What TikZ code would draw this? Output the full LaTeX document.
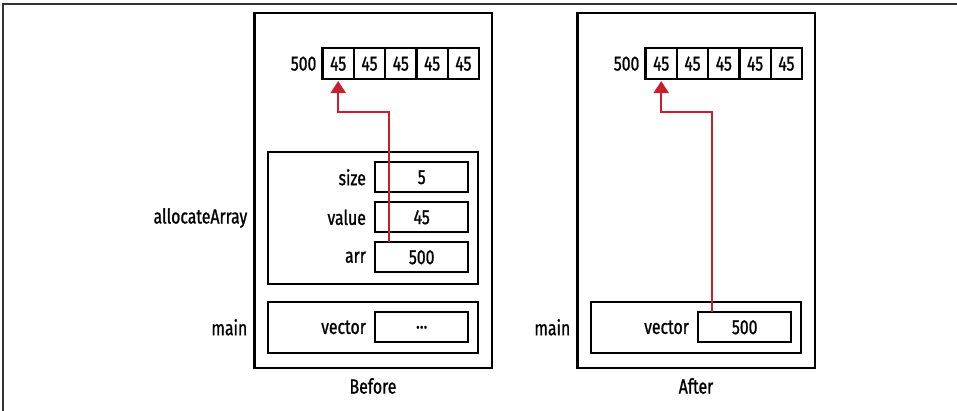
\documentclass[tikz,border=0pt]{standalone}
\usepackage{fontspec}
\setmainfont{Fira Sans}[FakeStretch=0.77, FakeBold=1]
\usetikzlibrary{positioning,arrows.meta}
\definecolor{ptrred}{RGB}{200,30,45}

\begin{document}
\begin{tikzpicture}
        [x = 1pt, y = -1pt,
            font = \fontsize{20.5}{22}\selectfont,
            node distance = 10pt,
            box/.style = {draw, line width=2.2pt, outer sep=0pt, inner sep=0pt},
            frame box/.style = {box, minimum width=#1},
            cell box/.style = {box, minimum width=31.3pt, minimum height=30.7pt},
            value box/.style = {box, minimum width=93.3pt, minimum height=30pt},
            var label/.style = {inner sep=0pt, left=9pt of #1},
            pointer/.style = {ptrred, line width=2.2pt, -{Triangle[width=15pt,length=12pt]}, shorten >=2pt}]

        \useasboundingbox (0,0) rectangle (957,411);
        \draw[black!80, line width=1.2pt] (3,411) -- (3,4) -- (957,4);

        % Before
        \node[frame box=237.5pt, minimum height=354.7pt] (before) at (373.2,190.7) {};
        \node[frame box=210pt, minimum height=132.6pt] (allocB) at (373.3,218) {};
        \node[frame box=210pt, minimum height=51pt] (mainB) at (373.3,327.8) {};

        \node[cell box] (b1) at (338.2,63.7) {45};
        \node[cell box, right=0pt of b1] (b2) {45};
        \node[cell box, right=0pt of b2] (b3) {45};
        \node[cell box, right=0pt of b3] (b4) {45};
        \node[cell box, right=0pt of b4] (b5) {45};
        \node[inner sep=0pt, left=6pt of b1] (addrB) {500};

        \node[value box] (size) at (421.7,177.3) {5};
        \node[value box, below=of size] (value) {45};
        \node[value box, below=of value] (arr) {500};
        \node[value box] (vectorB) at (421.7,327.3) {...};
        \node[var label=size] {size};
        \node[var label=value] {value};
        \node[var label=arr] {arr};
        \node[var label=vectorB] {vector};

        \node[inner sep=0pt, anchor=east] (allocLbl) at ([xshift=-7pt]before.west |- allocB.west) {allocateArray};
        \node[inner sep=0pt, anchor=east] (mainLblB) at ([xshift=-7pt]before.west |- vectorB.west) {main};
        \node (beforeLbl) at (373,386) {Before};

        \draw[pointer] ([xshift=14pt]arr.north west) |- ([yshift=-33pt]b1.south) -- (b1.south);

        % After
        \node[frame box=237.5pt, minimum height=354.7pt] (after) at (696.2,190.7) {};
        \node[frame box=210pt, minimum height=51pt] (mainA) at (696.3,327.8) {};

        \node[cell box] (a1) at (661.2,63.7) {45};
        \node[cell box, right=0pt of a1] (a2) {45};
        \node[cell box, right=0pt of a2] (a3) {45};
        \node[cell box, right=0pt of a3] (a4) {45};
        \node[cell box, right=0pt of a4] (a5) {45};
        \node[inner sep=0pt, left=6pt of a1] (addrA) {500};

        \node[value box] (vectorA) at (744.7,327.3) {500};
        \node[var label=vectorA] {vector};
        \node[inner sep=0pt, anchor=east] (mainLblA) at ([xshift=-7pt]after.west |- vectorA.west) {main};
        \node (afterLbl) at (696,386) {After};

        \draw[pointer] ([xshift=14pt]vectorA.north west) |- ([yshift=-33pt]a1.south) -- (a1.south);
    \end{tikzpicture}
\end{document}
